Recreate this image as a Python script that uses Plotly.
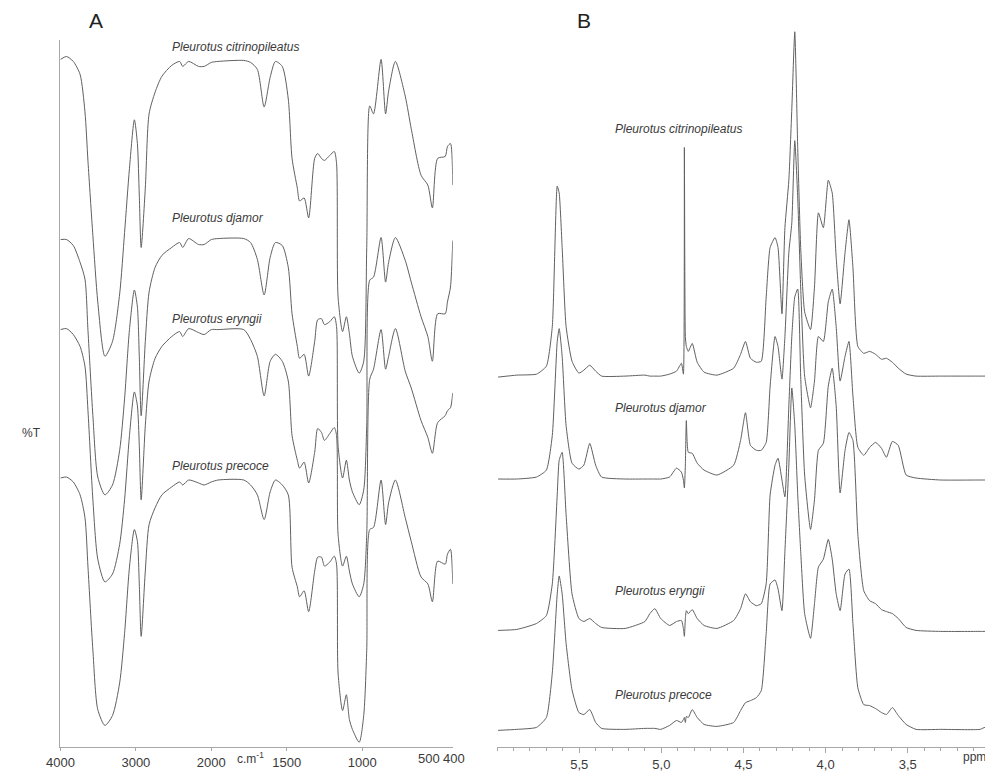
import plotly.graph_objects as go

# ---------------- Panel A : FTIR spectra (stacked, arbitrary %T units) ----------------
WAVENUMBER = [4000, 3920, 3830, 3740, 3675, 3635, 3570, 3505, 3410, 3310,
              3215, 3150, 3085, 3020, 2980, 2955, 2930, 2875, 2825, 2745,
              2655, 2525, 2420, 2380, 2300, 2170, 2095, 2000, 1955, 1785,
              1740, 1695, 1650, 1610, 1575, 1530, 1490, 1465, 1430, 1415,
              1385, 1355, 1315, 1295, 1270, 1250, 1215, 1185, 1170, 1160,
              1130, 1105, 1085, 1065, 1020, 990, 970, 950, 925, 875,
              845, 825, 780, 715, 675, 610, 565, 535, 500, 450,
              435, 415, 400]

FTIR_CITRINOPILEATUS = [697, 700, 695, 682, 644, 594, 519, 452, 397, 412,
                        460, 522, 587, 636, 612, 560, 507, 567, 642, 664,
                        680, 691, 695, 690, 695, 690, 690, 694, 695, 696,
                        694, 687, 649, 679, 695, 690, 657, 597, 567, 554,
                        557, 537, 597, 602, 597, 595, 600, 604, 592, 457,
                        422, 437, 420, 397, 380, 392, 507, 650, 642, 697,
                        642, 665, 695, 660, 627, 580, 570, 547, 597, 599,
                        609, 612, 570]

FTIR_DJAMOR = [515, 515, 509, 492, 475, 423, 337, 275, 257, 267,
               302, 354, 424, 464, 447, 397, 337, 412, 462, 487,
               499, 507, 512, 507, 516, 510, 510, 515, 516, 516,
               512, 495, 459, 497, 512, 509, 487, 440, 407, 395,
               399, 377, 412, 434, 435, 429, 432, 437, 427, 307,
               274, 292, 272, 260, 247, 262, 327, 474, 477, 517,
               472, 492, 517, 494, 472, 437, 417, 392, 440, 440,
               452, 467, 514]

FTIR_ERYNGII = [424, 425, 419, 407, 387, 342, 252, 192, 169, 177,
                207, 252, 317, 361, 347, 307, 252, 327, 372, 395,
                407, 417, 422, 417, 425, 421, 419, 424, 424, 424,
                414, 397, 357, 392, 399, 392, 372, 317, 292, 284,
                290, 269, 300, 324, 320, 312, 319, 325, 317, 217,
                185, 195, 180, 167, 154, 167, 217, 374, 384, 424,
                384, 397, 425, 382, 365, 332, 315, 299, 330, 337,
                342, 345, 360]

FTIR_PRECOCE = [274, 275, 270, 257, 234, 184, 100, 40, 24, 34,
                67, 117, 184, 222, 210, 167, 114, 180, 227, 244,
                257, 265, 270, 267, 272, 269, 267, 270, 272, 272,
                267, 257, 232, 260, 272, 267, 257, 184, 164, 154,
                160, 139, 180, 194, 194, 185, 189, 195, 187, 77,
                39, 55, 30, 20, 7, 34, 100, 222, 224, 272,
                227, 249, 272, 234, 210, 174, 167, 149, 190, 187,
                197, 202, 167]

FTIR_TICKS = [4000, 3000, 2000, 1500, 1000]
FTIR_END_TICKS = [500, 400]

# ---------------- Panel B : 1H NMR spectra (intensity above each baseline) ----------------
PPM = [5.994, 5.880, 5.760, 5.700, 5.664, 5.634, 5.622, 5.604, 5.580, 5.544,
       5.502, 5.472, 5.436, 5.400, 5.364, 5.220, 5.100, 5.070, 5.040, 5.004,
       4.950, 4.908, 4.878, 4.866, 4.860, 4.854, 4.848, 4.836, 4.812, 4.782,
       4.740, 4.662, 4.560, 4.518, 4.488, 4.458, 4.422, 4.392, 4.362, 4.338,
       4.308, 4.290, 4.266, 4.248, 4.224, 4.206, 4.188, 4.170, 4.152, 4.128,
       4.092, 4.068, 4.044, 4.014, 3.984, 3.960, 3.936, 3.912, 3.882, 3.858,
       3.834, 3.804, 3.768, 3.732, 3.696, 3.660, 3.630, 3.594, 3.558, 3.510,
       3.450, 3.300, 3.060, 3.030, 3.006]

NMR_CITRINOPILEATUS = [-1, 1, 2, 10, 50, 192, 185, 130, 50, 15,
                       3, 6, 11, 5, 0, 0, 1, 0, 0, 0,
                       2, 5, 13, 2, 231, 40, 30, 25, 33, 14,
                       4, 1, 8, 22, 35, 18, 14, 15, 80, 130,
                       140, 130, 63, 150, 198, 270, 348, 230, 130, 65,
                       47, 90, 165, 150, 198, 185, 120, 73, 125, 158,
                       110, 30, 23, 25, 22, 17, 18, 14, 8, 2,
                       0, 0, 0, 0, 0]

NMR_DJAMOR = [-1, -1, 1, 8, 43, 138, 151, 123, 53, 15,
              9, 13, 35, 13, 1, -1, -1, -1, -1, -1,
              1, 10, 6, -2, -10, 13, 58, 26, 25, 15,
              8, 3, 13, 38, 66, 33, 28, 28, 36, 93,
              143, 133, 100, 143, 228, 258, 341, 283, 193, 103,
              71, 98, 143, 138, 178, 191, 153, 98, 123, 138,
              83, 31, 23, 31, 36, 30, 21, 37, 33, 3,
              0, -2, -2, -2, -2]

NMR_ERYNGII = [-1, 0, 6, 14, 46, 136, 171, 179, 116, 36,
               11, 8, 11, 6, 2, 1, 8, 16, 21, 11,
               4, 8, 9, 1, -7, 11, 19, 16, 20, 11,
               4, 1, 9, 21, 36, 28, 24, 26, 46, 136,
               166, 173, 151, 134, 226, 296, 336, 344, 256, 156,
               101, 131, 181, 188, 246, 264, 226, 138, 181, 199,
               191, 96, 39, 29, 26, 20, 18, 16, 11, 2,
               -1, -2, -2, -2, -2]

NMR_PRECOCE = [-1, 0, 2, 12, 57, 137, 155, 137, 87, 40,
               17, 15, 20, 7, 1, 0, 1, 1, 1, 0,
               4, 9, 7, 10, 12, 7, 13, 12, 20, 12,
               5, 3, 7, 19, 27, 29, 32, 39, 97, 147,
               151, 142, 120, 180, 267, 345, 307, 237, 180, 117,
               92, 127, 164, 172, 192, 172, 137, 120, 157, 162,
               107, 42, 25, 24, 21, 17, 15, 22, 14, 5,
               0, 0, 0, 2, -1]

PPM_TICKS = [5.5, 5.0, 4.5, 4.0, 3.5]
PPM_TICK_LABELS = ["5,5", "5,0", "4,5", "4,0", "3,5"]

SPECIES = ["Pleurotus citrinopileatus", "Pleurotus djamor",
           "Pleurotus eryngii", "Pleurotus precoce"]

# stacking offsets of the NMR traces (display only)
NMR_OFFSETS = [375, 272, 119, 18]

# The page has the default 8px <body> margin; keep the figure inside the
# 993x780 window so the page does not overflow, and lay out in window pixels.
PAGE_W, PAGE_H, MARGIN = 993, 780, 8
W, H = PAGE_W - 2 * MARGIN, PAGE_H - 2 * MARGIN
LINE = "#606060"
AXIS = "#a8a8a8"
TEXT = "#3a3a3a"
FONT = "Arial, Liberation Sans, sans-serif"
PX_PER_PPM = 166.67


def wn_pos(w):
    """FTIR abscissa with the usual 2x expansion below 2000 cm-1."""
    return 4000 - w if w >= 2000 else 2000 + 2 * (2000 - w)


def fx(x):
    return (x - MARGIN) / W


def fy(y):
    return 1 - (y - MARGIN) / H


B_LEFT, B_RIGHT = 490, MARGIN + W  # panel B axis, window pixels

fig = go.Figure()

ftir_sets = [FTIR_CITRINOPILEATUS, FTIR_DJAMOR, FTIR_ERYNGII, FTIR_PRECOCE]
for name, vals in zip(SPECIES, ftir_sets):
    fig.add_trace(go.Scatter(
        x=[wn_pos(w) for w in WAVENUMBER], y=vals, mode="lines", name=name,
        line=dict(color=LINE, width=1, shape="spline", smoothing=0.7),
        xaxis="x", yaxis="y", hoverinfo="skip", showlegend=False))

nmr_sets = [NMR_CITRINOPILEATUS, NMR_DJAMOR, NMR_ERYNGII, NMR_PRECOCE]
for name, vals, off in zip(SPECIES, nmr_sets, NMR_OFFSETS):
    fig.add_trace(go.Scatter(
        x=PPM, y=[v + off for v in vals], mode="lines", name=name,
        line=dict(color=LINE, width=1, shape="spline", smoothing=0.5),
        xaxis="x2", yaxis="y2", hoverinfo="skip", showlegend=False,
        cliponaxis=True))

fig.update_layout(
    width=W, height=H,
    margin=dict(l=0, r=0, t=0, b=0),
    paper_bgcolor="white", plot_bgcolor="white",
    font=dict(family=FONT, color=TEXT),
    xaxis=dict(domain=[fx(47), fx(445)], range=[0, wn_pos(400)],
               tickmode="array", tickvals=[wn_pos(t) for t in FTIR_TICKS],
               ticktext=[str(t) for t in FTIR_TICKS], tickangle=0,
               tickfont=dict(size=13, color=TEXT),
               showline=True, linecolor=AXIS, linewidth=1,
               ticks="outside", ticklen=3, tickcolor=AXIS,
               showgrid=False, zeroline=False, anchor="y"),
    yaxis=dict(domain=[fy(755), fy(40)], range=[2, 717],
               showline=True, linecolor=AXIS, linewidth=1,
               showticklabels=False, ticks="", showgrid=False,
               zeroline=False, anchor="x"),
    xaxis2=dict(domain=[fx(B_LEFT), fx(B_RIGHT)],
                range=[6.0, 6.0 - (B_RIGHT - B_LEFT) / PX_PER_PPM],
                tickmode="array", tickvals=PPM_TICKS, ticktext=PPM_TICK_LABELS,
                tickangle=0, tickfont=dict(size=13, color=TEXT),
                showline=True, linecolor=AXIS, linewidth=1,
                ticks="outside", ticklen=5, tickcolor=AXIS,
                minor=dict(tickmode="linear", tick0=3.0, dtick=0.1,
                           ticks="outside", ticklen=3, tickcolor=AXIS),
                showgrid=False, zeroline=False, anchor="y2"),
    yaxis2=dict(domain=[fy(755), 1], range=[0, 755 - MARGIN],
                visible=False, anchor="x2"),
)


def label(text, x, y, size, color=TEXT, xanchor="center", yanchor="middle"):
    return dict(text=text, x=fx(x), y=fy(y), xref="paper", yref="paper",
                xanchor=xanchor, yanchor=yanchor, showarrow=False,
                borderpad=0, font=dict(size=size, color=color))


ann = []
# panel letters
ann.append(label("A", 83, 21, 21, "#222"))
ann.append(label("B", 578, 21, 21, "#222"))
# species labels
a_label_y = [47, 220, 322, 471]
b_label_y = [130, 412, 597, 702]
for name, ya, yb in zip(SPECIES, a_label_y, b_label_y):
    ann.append(label("<i>%s</i>" % name, 159, ya, 12, xanchor="left"))
    ann.append(label("<i>%s</i>" % name, 609, yb, 12, xanchor="left"))
# crowded end ticks of the FTIR axis, aligned with the regular tick labels
ann.append(dict(text=str(FTIR_END_TICKS[0]), x=wn_pos(FTIR_END_TICKS[0]),
                y=fy(755), xref="x", yref="paper", xanchor="right",
                yanchor="top", xshift=3, yshift=-3, borderpad=0,
                showarrow=False, font=dict(size=13, color=TEXT)))
ann.append(dict(text=str(FTIR_END_TICKS[1]), x=wn_pos(FTIR_END_TICKS[1]),
                y=fy(755), xref="x", yref="paper", xanchor="left",
                yanchor="top", xshift=-11, yshift=-3, borderpad=0,
                showarrow=False, font=dict(size=13, color=TEXT)))
# axis titles
ann.append(label("%T", 18, 437, 12))
ann.append(label("c.m<sup>-1</sup>", 240, 766, 12))
ann.append(label("ppm", 974, 765, 12))

fig.update_layout(annotations=ann)
fig.write_html("out.html")
